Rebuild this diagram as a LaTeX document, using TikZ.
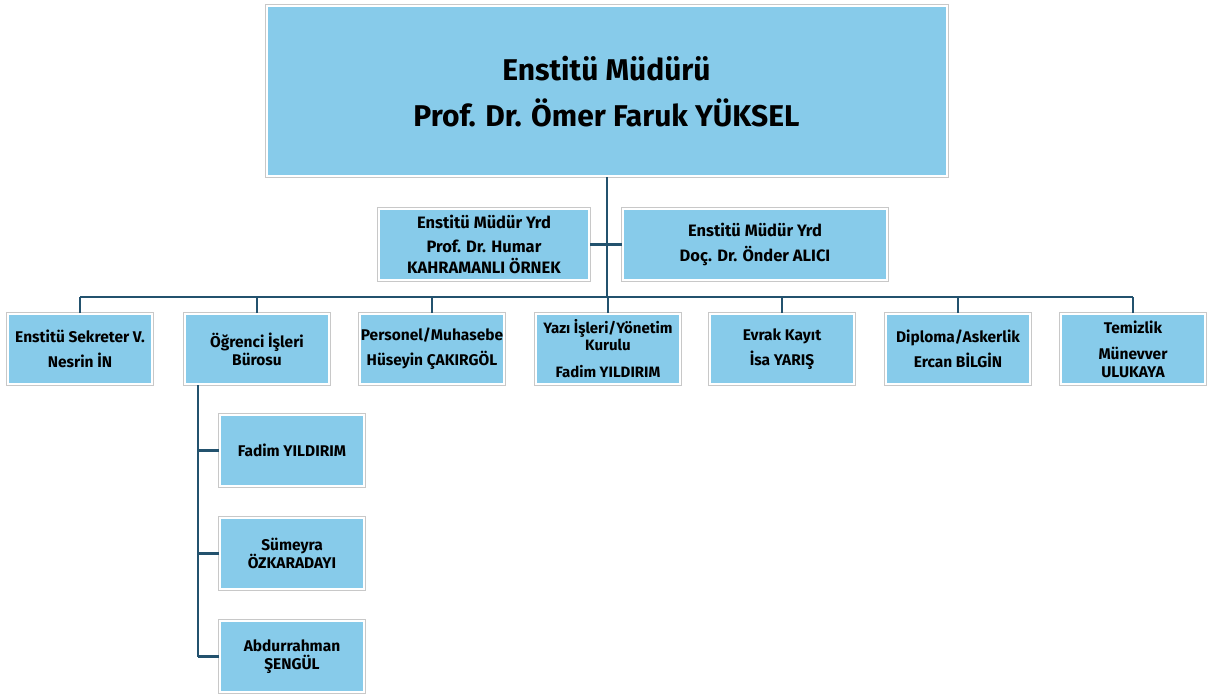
\documentclass[tikz,border=0pt]{standalone}
\usepackage{fontspec}
\setmainfont{Fira Sans}
\definecolor{sky}{HTML}{87CBEA}
\definecolor{linec}{HTML}{23526E}
\definecolor{edgec}{HTML}{C8C8C8}
\tikzset{
  box/.style={fill=sky, draw=white, line width=2pt, preaction={draw=edgec, line width=4pt},
    inner sep=0pt, align=center, text=black, font=\bfseries\fontsize{15.5}{18}\selectfont},
  small/.style={box, minimum width=144pt, minimum height=70pt},
  conn/.style={draw=linec, line width=2.4pt},
}
\begin{document}
\begin{tikzpicture}[x=1pt,y=-1pt]
\useasboundingbox[fill=white] (0,0) rectangle (1208,695);
% top
\node[box, minimum width=680pt, minimum height=170pt, font=\bfseries\fontsize{30}{36}\selectfont] (top) at (606.5,91.5)
  {Enstitü Müdürü\\[10pt]Prof. Dr. Ömer Faruk YÜKSEL};
% deputies
\node[box, minimum width=210pt, minimum height=71pt, font=\bfseries\fontsize{16.5}{21}\selectfont] (yl) at (484,244.5)
  {Enstitü Müdür Yrd\\[3pt]Prof. Dr. Humar\\KAHRAMANLI ÖRNEK};
\node[box, minimum width=264pt, minimum height=71pt, font=\bfseries\fontsize{16.5}{25}\selectfont] (yr) at (755,244.5)
  {Enstitü Müdür Yrd\\Doç. Dr. Önder ALICI};
% bottom row
\node[small] (b1) at (80,349) {Enstitü Sekreter V.\\[7pt]Nesrin İN};
\node[small] (b2) at (257,349) {Öğrenci İşleri\\Bürosu};
\node[small] (b3) at (432,349) {Personel/Muhasebe\\[7pt]Hüseyin ÇAKIRGÖL};
\node[small, font=\bfseries\fontsize{15}{17}\selectfont] (b4) at (608,349) {Yazı İşleri/Yönetim\\Kurulu\\[10pt]Fadim YILDIRIM};
\node[small] (b5) at (782,349) {Evrak Kayıt\\[7pt]İsa YARIŞ};
\node[small] (b6) at (958,349) {Diploma/Askerlik\\[7pt]Ercan BİLGİN};
\node[small] (b7) at (1133,349) {Temizlik\\[8pt]Münevver\\ULUKAYA};
% sub boxes
\node[small, minimum height=71pt] (s1) at (292,450.5) {Fadim YILDIRIM};
\node[small, minimum height=71pt] (s2) at (292,553.5) {Sümeyra\\ÖZKARADAYI};
\node[small, minimum height=71pt] (s3) at (292,656.5) {Abdurrahman\\ŞENGÜL};
% connectors
\coordinate (bus) at (607,297);
\coordinate (spine) at (198,657);
\draw[conn] (top.south -| bus) -- (bus);
\draw[conn] (yl.east) -- (yr.west);
\draw[conn] (b1.north |- bus) -- (b7.north |- bus);
\foreach \b in {b1,b2,b3,b4,b5,b6,b7} \draw[conn] (\b.north) -- (\b.north |- bus);
\draw[conn] (b2.south -| spine) -- (s3.west -| spine);
\foreach \s in {s1,s2,s3} \draw[conn] (\s.west) -- (\s.west -| spine);
\end{tikzpicture}
\end{document}
